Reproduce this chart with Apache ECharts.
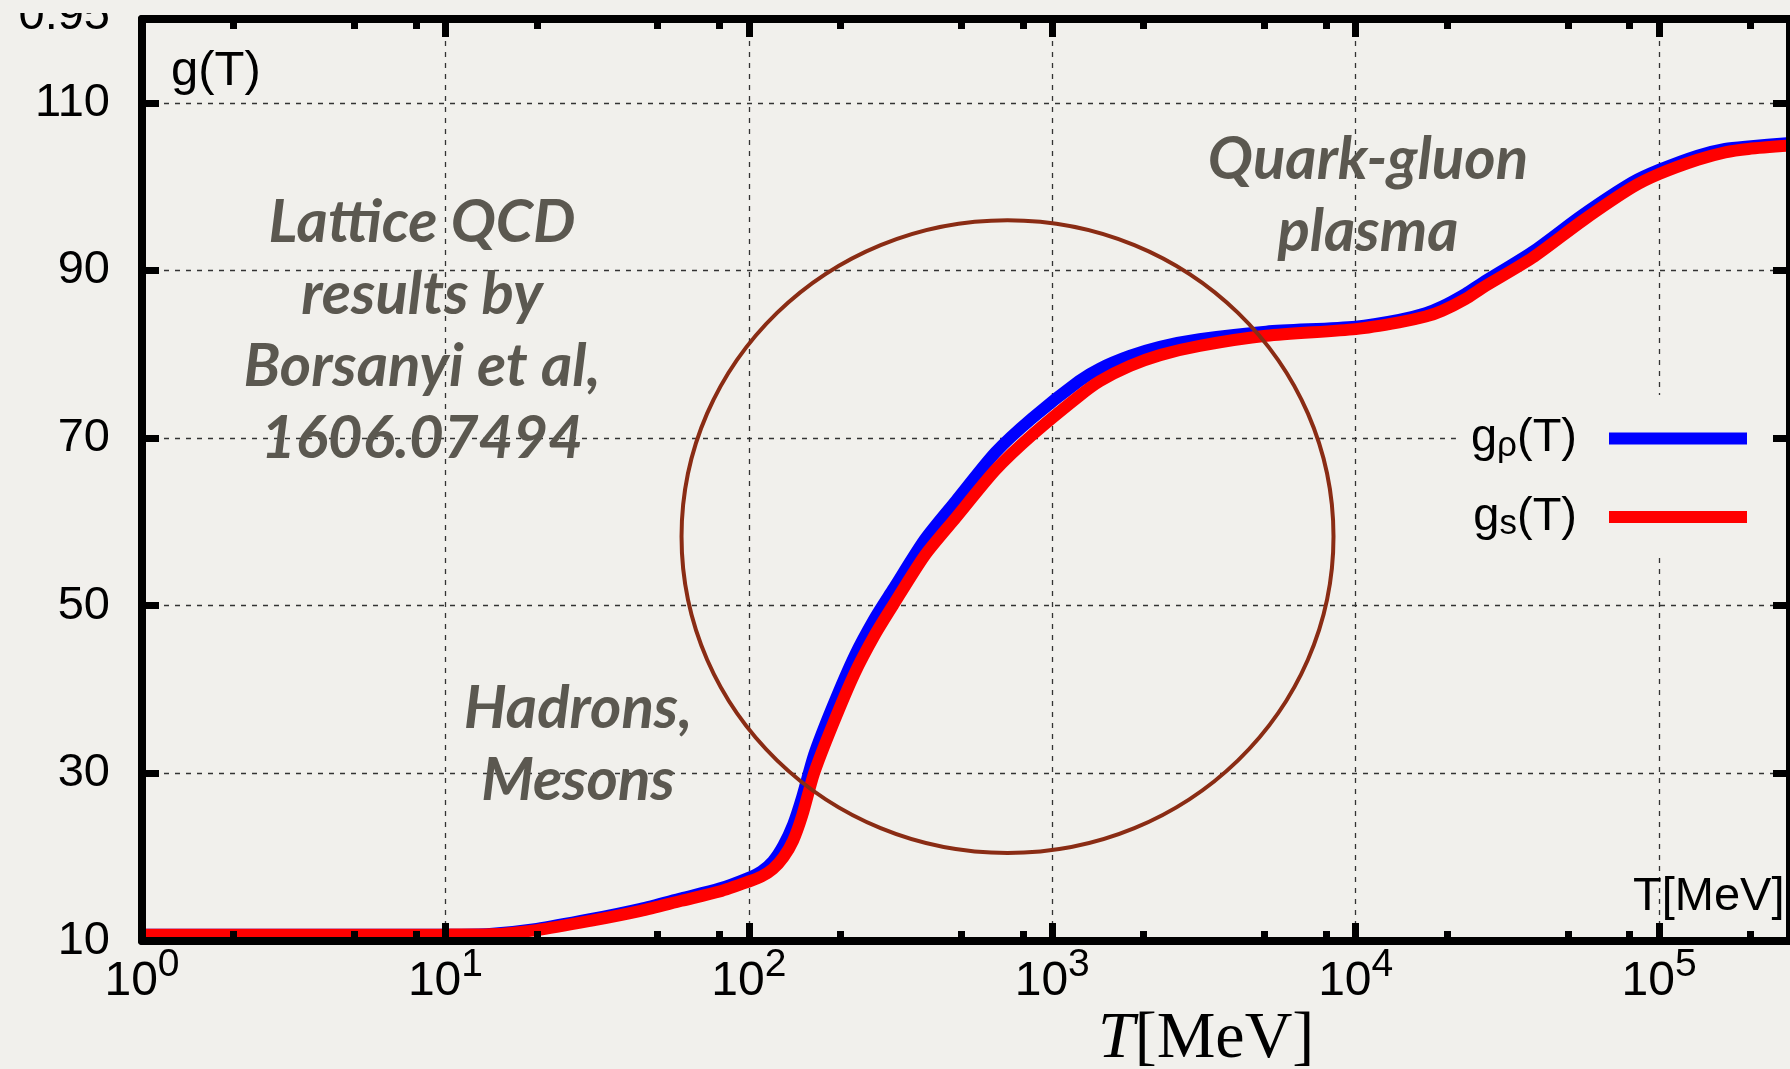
<!DOCTYPE html>
<html>
<head>
<meta charset="utf-8">
<script src="https://cdn.jsdelivr.net/npm/echarts@6/dist/echarts.min.js"></script>
<style>
html, body { margin: 0; padding: 0; background: #f1f0ec; }
#chart { width: 1790px; height: 1069px; }
</style>
</head>
<body>
<div id="chart"></div>
<script>
// temperature in MeV
var temps = [1, 3, 10, 14, 20, 30, 44, 60, 80, 100, 110, 120, 130, 140, 150, 164, 189, 223, 260, 298, 380, 481, 650, 860, 1225, 1435, 1800, 2265, 3060, 5070, 10000, 13900, 17000, 19300, 23000, 26100, 38200, 55800, 81500, 100000, 134000, 165000, 197000, 270000];
// g_rho(T), blue
var gRho = [10.75, 10.75, 10.76, 10.85, 11.45, 12.6, 13.85, 15.1, 16.25, 17.55, 18.3, 19.5, 21.4, 23.9, 27.2, 32.2, 38.0, 44.0, 48.5, 51.9, 57.9, 62.5, 68.3, 72.4, 76.8, 78.3, 79.8, 80.9, 81.8, 82.7, 83.3, 84.1, 84.9, 85.7, 87.2, 88.5, 92.2, 96.6, 100.5, 102.0, 103.7, 104.5, 104.8, 105.2];
// g_s(T), red
var gS = [10.75, 10.75, 10.76, 10.8, 11.3, 12.4, 13.6, 14.8, 15.9, 17.1, 17.7, 18.6, 20.0, 22.0, 25.0, 30.0, 35.8, 41.9, 46.5, 50.0, 56.0, 60.5, 66.2, 70.4, 75.0, 76.8, 78.6, 79.9, 81.0, 82.2, 83.0, 83.8, 84.5, 85.2, 86.6, 87.9, 91.5, 95.9, 99.9, 101.5, 103.2, 104.1, 104.5, 104.9];

var xMajor = [1, 10, 100, 1000, 10000, 100000];
var xMinor = [2, 5, 8, 20, 50, 80, 200, 500, 800, 2000, 5000, 8000, 20000, 50000, 80000, 200000];
// the hand drawn circle, as a box in data units
var circleT = [60, 8450];
var circleG = [20.5, 96];

var bg = '#f1f0ec';
var ink = '#5b5850';
var sans = "'Liberation Sans', Arial, sans-serif";

var myChart = echarts.init(document.getElementById('chart'));

function pairs(ys) {
	return temps.map(function (t, i) { return [t, ys[i]]; });
}

function logAxis(pos, z) {
	return {
		type: 'log', logBase: 10, min: 1, max: 270000, position: pos, z: z,
		axisLine: { show: false },
		axisTick: { show: false },
		axisLabel: { show: false },
		splitLine: { show: false }
	};
}

var frame = { color: '#000', width: 8 };
var tickStyle = { color: '#000', width: 7 };

// main axes: labels and grid lines, under the curves
var xMain = logAxis('bottom', 0);
xMain.axisLabel = {
	show: true, customValues: xMajor, margin: 5,
	formatter: function (v) {
		return '{b|10}{s|' + Math.round(Math.log10(v)) + '}';
	},
	rich: {
		b: { fontSize: 48, lineHeight: 72, fontFamily: sans, color: '#000' },
		s: { fontSize: 39, lineHeight: 38, verticalAlign: 'top', fontFamily: sans, color: '#000' }
	}
};
xMain.axisTick = { show: false, customValues: xMajor };
xMain.splitLine = { show: true, lineStyle: { color: '#333', width: 1.3, type: [5, 6] } };

// frame axes drawn above the curves
var xBottom = logAxis('bottom', 5);
xBottom.axisLine = { show: true, lineStyle: frame };
xBottom.axisTick = { show: true, inside: true, length: 18, customValues: xMajor, lineStyle: tickStyle };
var xBottomMinor = logAxis('bottom', 5);
xBottomMinor.axisTick = { show: true, inside: true, length: 10, customValues: xMinor, lineStyle: tickStyle };
var xTop = logAxis('top', 5);
xTop.axisLine = { show: true, lineStyle: frame };
xTop.axisTick = { show: true, inside: true, length: 18, customValues: xMajor, lineStyle: tickStyle };
var xTopMinor = logAxis('top', 5);
xTopMinor.axisTick = { show: true, inside: true, length: 10, customValues: xMinor, lineStyle: tickStyle };

function valAxis(pos, z) {
	return {
		type: 'value', min: 10, max: 120, interval: 20, position: pos, z: z,
		axisLine: { show: false }, axisTick: { show: false },
		axisLabel: { show: false }, splitLine: { show: false }
	};
}
var yMain = valAxis('left', 0);
yMain.axisLabel = { show: true, showMaxLabel: false, margin: 32, fontSize: 47, fontFamily: sans, color: '#000' };
yMain.splitLine = { show: true, lineStyle: { color: '#333', width: 1.3, type: [5, 6] } };
var yLeft = valAxis('left', 5);
yLeft.axisLine = { show: true, lineStyle: frame };
yLeft.axisTick = { show: true, inside: true, length: 17, lineStyle: tickStyle };
var yRight = valAxis('right', 5);
yRight.axisLine = { show: true, lineStyle: frame };
yRight.axisTick = { show: true, inside: true, length: 17, lineStyle: tickStyle };

var option = {
	backgroundColor: bg,
	animation: false,
	grid: { left: 142, top: 19, width: 1650, height: 922 },
	xAxis: [xMain, xBottom, xBottomMinor, xTop, xTopMinor],
	yAxis: [yMain, yLeft, yRight],
	legend: {
		data: ['gρ(T)', 'gs(T)'],
		orient: 'vertical', align: 'right',
		right: 15, top: 395,
		padding: [20, 28, 15, 15],
		backgroundColor: bg,
		icon: 'rect', itemWidth: 138, itemHeight: 12, itemGap: 30,
		formatter: function (name) {
			var sub = name === 'gρ(T)' ? 'ρ' : 's';
			return '{a|g}{sub|' + sub + '}{a|(T)}{sp| }';
		},
		textStyle: {
			rich: {
				a: { fontSize: 47, lineHeight: 50, fontFamily: sans, color: '#000' },
				sub: { fontSize: 35, lineHeight: 26, verticalAlign: 'bottom', fontFamily: sans, color: '#000' },
				sp: { width: 27, fontSize: 10 }
			}
		}
	},
	series: [
		{
			name: 'gρ(T)', type: 'line', data: pairs(gRho),
			showSymbol: false, smooth: 0.25,
			color: '#0000ff',
			lineStyle: { color: '#0000ff', width: 12 }
		},
		{
			name: 'gs(T)', type: 'line', data: pairs(gS),
			showSymbol: false, smooth: 0.25,
			color: '#ff0000',
			lineStyle: { color: '#ff0000', width: 12 }
		}
	]
};
myChart.setOption(option);

// circle and text notes
var p1 = myChart.convertToPixel({ seriesIndex: 0 }, [circleT[0], circleG[0]]);
var p2 = myChart.convertToPixel({ seriesIndex: 0 }, [circleT[1], circleG[1]]);

var note = { fontFamily: 'Lato', fontStyle: 'italic', fontWeight: 'bold', fontSize: 60, fill: ink, align: 'center', verticalAlign: 'middle', lineHeight: 72 };
function noteText(txt, x, y) {
	return { type: 'text', z: 20, style: Object.assign({ text: txt, x: x, y: y }, note) };
}

myChart.setOption({
	graphic: [
		{
			type: 'ellipse', z: 30,
			shape: { cx: (p1[0] + p2[0]) / 2, cy: (p1[1] + p2[1]) / 2, rx: Math.abs(p2[0] - p1[0]) / 2, ry: Math.abs(p2[1] - p1[1]) / 2 },
			style: { fill: null, stroke: '#8a2c14', lineWidth: 4 }
		},
		noteText('Lattice QCD\nresults by\nBorsanyi et al,\n1606.07494', 422, 331),
		noteText('Quark-gluon\nplasma', 1368, 196),
		noteText('Hadrons,\nMesons', 578, 745),
		{ type: 'text', z: 20, style: { text: 'g(T)', x: 171, y: 71, font: '49px ' + sans, fill: '#000', verticalAlign: 'middle' } },
		{ type: 'text', z: 20, style: { text: 'T[MeV]', x: 1633, y: 897, font: '47px ' + sans, fill: '#000', verticalAlign: 'middle' } },
		{
			type: 'text', z: 20,
			style: {
				text: '{i|T}{r|[MeV]}', x: 1098, y: 1040, verticalAlign: 'middle',
				rich: {
					i: { fontFamily: "'Liberation Serif', serif", fontStyle: 'italic', fontSize: 66, fill: '#000' },
					r: { fontFamily: "'Liberation Serif', serif", fontSize: 66, fill: '#000' }
				}
			}
		},
		{ type: 'text', z: 20, style: { text: '0.95', x: 110, y: 16, font: '47px ' + sans, fill: '#000', align: 'right', verticalAlign: 'middle' } },
		{ type: 'rect', z: 21, shape: { x: 0, y: 0, width: 138, height: 13 }, style: { fill: bg } }
	]
});

window.addEventListener('resize', function () {
	myChart.resize();
});
</script>
</body>
</html>
